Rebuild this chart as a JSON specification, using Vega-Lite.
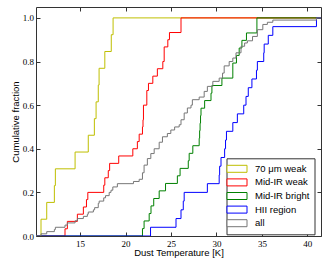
{
  "$schema": "https://vega.github.io/schema/vega-lite/v6.json",
  "width": 285,
  "height": 229,
  "autosize": {"type": "none"},
  "padding": {"left": 36, "top": 7, "right": 11, "bottom": 22},
  "background": "white",
  "data": {"values": [
    {"s":"70 μm weak","T":10.15,"f":0},
    {"s":"70 μm weak","T":10.7,"f":0.077},
    {"s":"70 μm weak","T":11.33,"f":0.154},
    {"s":"70 μm weak","T":12.17,"f":0.231},
    {"s":"70 μm weak","T":12.28,"f":0.308},
    {"s":"70 μm weak","T":14.45,"f":0.385},
    {"s":"70 μm weak","T":15.9,"f":0.462},
    {"s":"70 μm weak","T":16.57,"f":0.538},
    {"s":"70 μm weak","T":16.76,"f":0.615},
    {"s":"70 μm weak","T":17.0,"f":0.692},
    {"s":"70 μm weak","T":17.09,"f":0.769},
    {"s":"70 μm weak","T":17.72,"f":0.846},
    {"s":"70 μm weak","T":18.43,"f":0.923},
    {"s":"70 μm weak","T":18.63,"f":1.0},
    {"s":"70 μm weak","T":41.5,"f":1.0},

    {"s":"Mid-IR weak","T":10.15,"f":0},
    {"s":"Mid-IR weak","T":13.34,"f":0.033},
    {"s":"Mid-IR weak","T":13.6,"f":0.067},
    {"s":"Mid-IR weak","T":14.7,"f":0.1},
    {"s":"Mid-IR weak","T":15.36,"f":0.133},
    {"s":"Mid-IR weak","T":15.7,"f":0.167},
    {"s":"Mid-IR weak","T":15.85,"f":0.2},
    {"s":"Mid-IR weak","T":17.6,"f":0.233},
    {"s":"Mid-IR weak","T":17.72,"f":0.267},
    {"s":"Mid-IR weak","T":18.1,"f":0.3},
    {"s":"Mid-IR weak","T":18.25,"f":0.333},
    {"s":"Mid-IR weak","T":19.25,"f":0.367},
    {"s":"Mid-IR weak","T":20.8,"f":0.4},
    {"s":"Mid-IR weak","T":21.3,"f":0.433},
    {"s":"Mid-IR weak","T":21.5,"f":0.467},
    {"s":"Mid-IR weak","T":21.86,"f":0.5},
    {"s":"Mid-IR weak","T":21.92,"f":0.533},
    {"s":"Mid-IR weak","T":21.97,"f":0.6},
    {"s":"Mid-IR weak","T":22.34,"f":0.667},
    {"s":"Mid-IR weak","T":22.52,"f":0.7},
    {"s":"Mid-IR weak","T":23.0,"f":0.733},
    {"s":"Mid-IR weak","T":23.5,"f":0.767},
    {"s":"Mid-IR weak","T":24.1,"f":0.8},
    {"s":"Mid-IR weak","T":24.25,"f":0.867},
    {"s":"Mid-IR weak","T":24.65,"f":0.9},
    {"s":"Mid-IR weak","T":24.83,"f":0.933},
    {"s":"Mid-IR weak","T":26.1,"f":1.0},
    {"s":"Mid-IR weak","T":41.5,"f":1.0},

    {"s":"Mid-IR bright","T":10.15,"f":0},
    {"s":"Mid-IR bright","T":21.86,"f":0.034},
    {"s":"Mid-IR bright","T":22.04,"f":0.069},
    {"s":"Mid-IR bright","T":22.6,"f":0.103},
    {"s":"Mid-IR bright","T":22.8,"f":0.138},
    {"s":"Mid-IR bright","T":23.1,"f":0.172},
    {"s":"Mid-IR bright","T":23.7,"f":0.207},
    {"s":"Mid-IR bright","T":24.4,"f":0.241},
    {"s":"Mid-IR bright","T":25.7,"f":0.276},
    {"s":"Mid-IR bright","T":26.0,"f":0.31},
    {"s":"Mid-IR bright","T":26.9,"f":0.345},
    {"s":"Mid-IR bright","T":27.0,"f":0.379},
    {"s":"Mid-IR bright","T":27.4,"f":0.414},
    {"s":"Mid-IR bright","T":28.1,"f":0.448},
    {"s":"Mid-IR bright","T":28.15,"f":0.483},
    {"s":"Mid-IR bright","T":28.2,"f":0.517},
    {"s":"Mid-IR bright","T":28.25,"f":0.552},
    {"s":"Mid-IR bright","T":28.3,"f":0.586},
    {"s":"Mid-IR bright","T":28.7,"f":0.621},
    {"s":"Mid-IR bright","T":29.4,"f":0.655},
    {"s":"Mid-IR bright","T":29.5,"f":0.69},
    {"s":"Mid-IR bright","T":30.6,"f":0.724},
    {"s":"Mid-IR bright","T":31.8,"f":0.793},
    {"s":"Mid-IR bright","T":32.2,"f":0.828},
    {"s":"Mid-IR bright","T":32.5,"f":0.862},
    {"s":"Mid-IR bright","T":32.8,"f":0.897},
    {"s":"Mid-IR bright","T":33.3,"f":0.931},
    {"s":"Mid-IR bright","T":34.45,"f":1.0},
    {"s":"Mid-IR bright","T":41.5,"f":1.0},

    {"s":"HII region","T":10.15,"f":0},
    {"s":"HII region","T":22.75,"f":0.04},
    {"s":"HII region","T":25.55,"f":0.08},
    {"s":"HII region","T":26.1,"f":0.12},
    {"s":"HII region","T":26.35,"f":0.16},
    {"s":"HII region","T":26.45,"f":0.2},
    {"s":"HII region","T":29.0,"f":0.24},
    {"s":"HII region","T":30.3,"f":0.28},
    {"s":"HII region","T":30.35,"f":0.32},
    {"s":"HII region","T":30.5,"f":0.36},
    {"s":"HII region","T":30.9,"f":0.4},
    {"s":"HII region","T":31.0,"f":0.44},
    {"s":"HII region","T":31.1,"f":0.48},
    {"s":"HII region","T":31.8,"f":0.52},
    {"s":"HII region","T":32.3,"f":0.56},
    {"s":"HII region","T":33.0,"f":0.6},
    {"s":"HII region","T":33.25,"f":0.64},
    {"s":"HII region","T":33.5,"f":0.68},
    {"s":"HII region","T":33.9,"f":0.72},
    {"s":"HII region","T":34.4,"f":0.76},
    {"s":"HII region","T":34.5,"f":0.8},
    {"s":"HII region","T":35.2,"f":0.84},
    {"s":"HII region","T":35.25,"f":0.88},
    {"s":"HII region","T":35.7,"f":0.92},
    {"s":"HII region","T":36.2,"f":0.96},
    {"s":"HII region","T":41.0,"f":1.0},
    {"s":"HII region","T":41.5,"f":1.0},

    {"s":"all","T":10.15,"f":0},
    {"s":"all","T":10.7,"f":0.01},
    {"s":"all","T":11.33,"f":0.02},
    {"s":"all","T":12.17,"f":0.03},
    {"s":"all","T":12.28,"f":0.04},
    {"s":"all","T":13.34,"f":0.05},
    {"s":"all","T":13.6,"f":0.06},
    {"s":"all","T":14.45,"f":0.07},
    {"s":"all","T":14.7,"f":0.08},
    {"s":"all","T":15.36,"f":0.09},
    {"s":"all","T":15.8,"f":0.1},
    {"s":"all","T":15.9,"f":0.11},
    {"s":"all","T":16.46,"f":0.12},
    {"s":"all","T":16.6,"f":0.13},
    {"s":"all","T":17.0,"f":0.15},
    {"s":"all","T":17.1,"f":0.16},
    {"s":"all","T":17.6,"f":0.175},
    {"s":"all","T":17.8,"f":0.185},
    {"s":"all","T":18.2,"f":0.2},
    {"s":"all","T":18.4,"f":0.21},
    {"s":"all","T":18.6,"f":0.225},
    {"s":"all","T":19.1,"f":0.24},
    {"s":"all","T":20.87,"f":0.25},
    {"s":"all","T":21.5,"f":0.26},
    {"s":"all","T":21.86,"f":0.29},
    {"s":"all","T":22.04,"f":0.325},
    {"s":"all","T":22.4,"f":0.355},
    {"s":"all","T":22.78,"f":0.378},
    {"s":"all","T":23.15,"f":0.4},
    {"s":"all","T":23.7,"f":0.43},
    {"s":"all","T":24.06,"f":0.455},
    {"s":"all","T":24.6,"f":0.47},
    {"s":"all","T":24.98,"f":0.486},
    {"s":"all","T":25.4,"f":0.5},
    {"s":"all","T":25.9,"f":0.51},
    {"s":"all","T":26.1,"f":0.533},
    {"s":"all","T":26.45,"f":0.564},
    {"s":"all","T":26.8,"f":0.587},
    {"s":"all","T":27.2,"f":0.6},
    {"s":"all","T":27.35,"f":0.625},
    {"s":"all","T":28.1,"f":0.637},
    {"s":"all","T":28.65,"f":0.663},
    {"s":"all","T":29.0,"f":0.686},
    {"s":"all","T":29.6,"f":0.709},
    {"s":"all","T":30.3,"f":0.724},
    {"s":"all","T":30.67,"f":0.747},
    {"s":"all","T":30.85,"f":0.78},
    {"s":"all","T":31.4,"f":0.8},
    {"s":"all","T":31.8,"f":0.816},
    {"s":"all","T":32.15,"f":0.84},
    {"s":"all","T":32.7,"f":0.87},
    {"s":"all","T":33.1,"f":0.885},
    {"s":"all","T":33.4,"f":0.895},
    {"s":"all","T":33.97,"f":0.915},
    {"s":"all","T":34.5,"f":0.946},
    {"s":"all","T":35.1,"f":0.97},
    {"s":"all","T":35.6,"f":0.98},
    {"s":"all","T":36.2,"f":0.99},
    {"s":"all","T":41.0,"f":1.0},
    {"s":"all","T":41.5,"f":1.0}
  ]},
  "layer": [
    {
      "mark": {"type": "line", "interpolate": "step-after", "strokeWidth": 1, "clip": true},
      "encoding": {
        "x": {"field": "T", "type": "quantitative",
              "scale": {"domain": [10.15, 41.5], "nice": false, "zero": false},
              "axis": {"orient": "bottom", "values": [15, 20, 25, 30, 35, 40], "title": "Dust Temperature [K]",
                       "titleX": 142.5, "titleY": 19.5, "titleBaseline": "alphabetic", "labelPadding": 7}},
        "y": {"field": "f", "type": "quantitative",
              "scale": {"domain": [0, 1.05], "nice": false},
              "axis": {"orient": "left", "values": [0, 0.2, 0.4, 0.6, 0.8, 1.0], "format": ".1f", "title": "Cumulative fraction",
                       "titleX": -17.5, "titleY": 114.5, "titleBaseline": "alphabetic", "labelPadding": 6.5}},
        "color": {"field": "s", "type": "nominal",
                  "scale": {"domain": ["70 μm weak", "Mid-IR weak", "Mid-IR bright", "HII region", "all"],
                            "range": ["#bfbf00", "#ff0000", "#008000", "#0000ff", "#777777"]},
                  "legend": {"orient": "none", "legendX": 190.5, "legendY": 151.3, "title": null}}
      }
    },
    {
      "mark": {"type": "line", "opacity": 0},
      "encoding": {
        "x": {"field": "T", "type": "quantitative",
              "axis": {"orient": "top", "values": [15, 20, 25, 30, 35, 40], "labels": false, "title": null}},
        "y": {"field": "f", "type": "quantitative",
              "axis": {"orient": "right", "values": [0, 0.2, 0.4, 0.6, 0.8, 1.0], "labels": false, "title": null}}
      }
    }
  ],
  "resolve": {"axis": {"x": "independent", "y": "independent"}},
  "config": {
    "view": {"stroke": "#333333", "strokeWidth": 1},
    "axis": {
      "domain": false,
      "grid": false,
      "ticks": true,
      "tickSize": -4,
      "tickColor": "#333333",
      "labelFont": "Liberation Serif",
      "labelFontSize": 9,
      "labelColor": "#000000",
      "titleFont": "Liberation Sans",
      "titleFontSize": 9.5,
      "titleFontWeight": "normal",
      "titleColor": "#000000"
    },
    "legend": {
      "symbolType": "M-2,-0.7H2V0.7H-2Z",
      "symbolSize": 100,
      "symbolStrokeWidth": 1,
      "symbolFillColor": "white",
      "labelFont": "Liberation Sans",
      "labelFontSize": 9.5,
      "labelColor": "#000000",
      "labelOffset": 12.5,
      "rowPadding": 2.6,
      "padding": 5,
      "strokeColor": "#333333",
      "fillColor": "white",
      "cornerRadius": 0
    }
  }
}
